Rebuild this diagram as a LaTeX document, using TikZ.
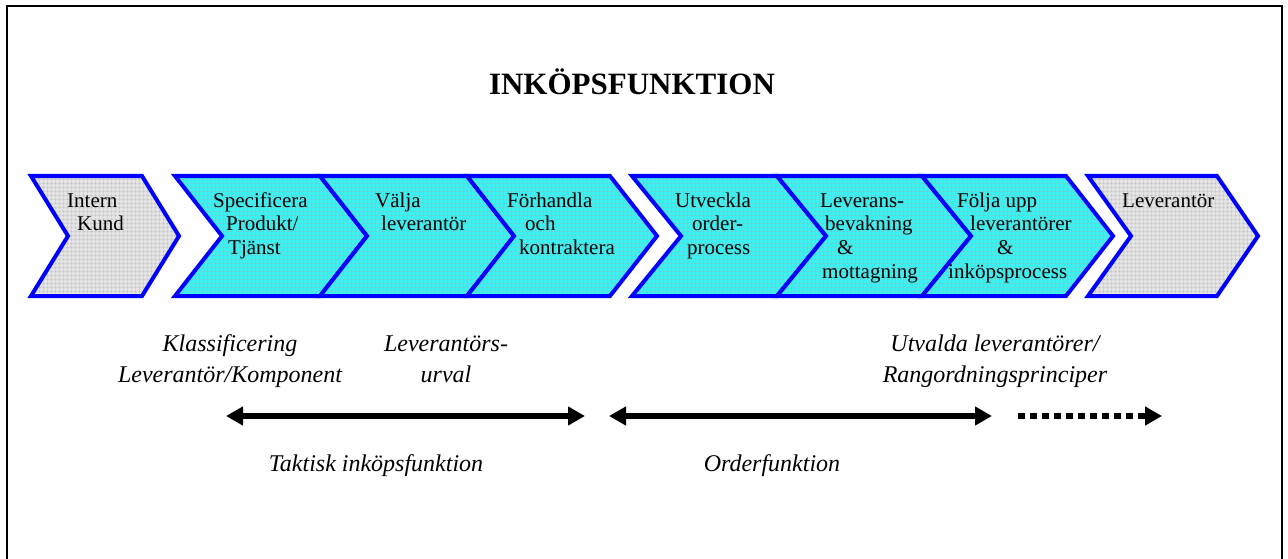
\documentclass[tikz,border=0pt]{standalone}
\usepackage{fontspec}
\setmainfont{Liberation Serif}
\usetikzlibrary{arrows.meta,patterns.meta}

\definecolor{chevblue}{RGB}{0,0,255}
\definecolor{cyanfill}{RGB}{60,240,240}
\definecolor{cyangrid}{RGB}{115,205,210}
\definecolor{grayfill}{RGB}{228,228,228}
\definecolor{graygrid}{RGB}{196,196,196}

\tikzset{
  chev/.style={draw=chevblue, line width=4pt, line join=miter},
  activechev/.style={chev,
    preaction={fill=cyanfill},
    preaction={pattern={Hatch[angle=0,distance=4pt,line width=0.7pt]}, pattern color=cyangrid}},
  outerchev/.style={chev,
    preaction={fill=grayfill},
    preaction={pattern={Hatch[angle=0,distance=4pt,line width=0.7pt]}, pattern color=graygrid}},
  % the base anchor of a multi-line node sits on its last line
  steptext/.style={font=\fontsize{21}{23.7}\selectfont, align=left, inner sep=0pt, anchor=base west},
  phasetext/.style={font=\fontsize{24}{31}\selectfont\itshape, align=center, inner sep=0pt, anchor=base},
  span/.style={line width=5.5pt, {Triangle[length=17pt,width=18pt]}-{Triangle[length=17pt,width=18pt]}},
  spanopen/.style={line width=6pt, dash pattern=on 7pt off 5pt, -{Triangle[length=17pt,width=18pt]}},
}

\begin{document}
\begin{tikzpicture}[x=1pt,y=-1pt]
\useasboundingbox (0,0) rectangle (1288,559);

% outer frame
\draw[line width=2.5pt, line cap=rect] (7,559) -- (7,6) -- (1282,6) -- (1282,559);

% title
\node[font=\fontsize{31}{36}\selectfont\bfseries, anchor=base, inner sep=0pt] (title) at (632,95) {INKÖPSFUNKTION};

% chevrons (top 176, middle 236, bottom 296)
\path[outerchev] (31,176) -- (142,176) -- (179,236) -- (142,296) -- (31,296) -- (68,236) -- cycle;

\path[activechev] (175,176) -- (320,176) -- (367,236) -- (320,296) -- (175,296) -- (222,236) -- cycle;
\path[activechev] (320,176) -- (467,176) -- (514,236) -- (467,296) -- (320,296) -- (367,236) -- cycle;
\path[activechev] (467,176) -- (610,176) -- (657,236) -- (610,296) -- (467,296) -- (514,236) -- cycle;

\path[activechev] (632,176) -- (777,176) -- (826,236) -- (777,296) -- (632,296) -- (681,236) -- cycle;
\path[activechev] (777,176) -- (922,176) -- (971,236) -- (922,296) -- (777,296) -- (826,236) -- cycle;
\path[activechev] (922,176) -- (1066,176) -- (1113,236) -- (1066,296) -- (922,296) -- (971,236) -- cycle;

\path[outerchev] (1088,176) -- (1217,176) -- (1258,236) -- (1217,296) -- (1088,296) -- (1131,236) -- cycle;

% step texts (first lines on y=207)
\node[steptext] (kund) at (67,230.7) {Intern\\\hspace*{10pt}Kund};
\node[steptext] (spec) at (213,254.4) {Specificera\\\hspace*{13pt}Produkt/\\\hspace*{15pt}Tjänst};
\node[steptext] (valja) at (375,230.7) {Välja\\\hspace*{6pt}leverantör};
\node[steptext] (forh) at (507,254.4) {Förhandla\\\hspace*{18pt}och\\\hspace*{12pt}kontraktera};
\node[steptext] (utv) at (675,254.4) {Utveckla\\\hspace*{17pt}order-\\\hspace*{12pt}process};
\node[steptext] (lev) at (820,278.1) {Leverans-\\\hspace*{5pt}bevakning\\\hspace*{17pt}\&\\\hspace*{2pt}mottagning};
\node[steptext] (folj) at (957,278.1) {Följa upp\\\hspace*{13pt}leverantörer\\\hspace*{40pt}\&\\\hspace*{-9pt}inköpsprocess};
\node[steptext] (levr) at (1122,207) {Leverantör};

% phase descriptions (first lines on y=351)
\node[phasetext] (klass) at (230,382) {Klassificering\\Leverantör/Komponent};
\node[phasetext] (urval) at (446,382) {Leverantörs-\\urval};
\node[phasetext] (utvalda) at (995,382) {Utvalda leverantörer/\\Rangordningsprinciper};

% spans
\coordinate (t1) at (226,416);
\coordinate (t2) at (585,416);
\coordinate (o1) at (609,416);
\coordinate (o2) at (992,416);
\coordinate (d1) at (1018,416);
\coordinate (d2) at (1162,416);
\draw[span] (t1) -- (t2);
\draw[span] (o1) -- (o2);
\draw[spanopen] (d1) -- (d2);

\node[phasetext] (taktisk) at (376,471) {Taktisk inköpsfunktion};
\node[phasetext] (order) at (772,471) {Orderfunktion};
\end{tikzpicture}
\end{document}
